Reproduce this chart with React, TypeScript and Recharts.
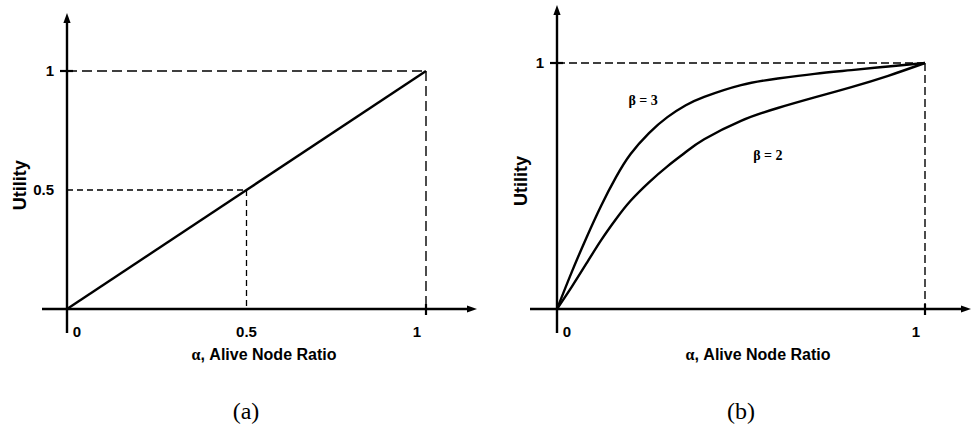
import React from "react";
import {
  LineChart,
  Line,
  XAxis,
  YAxis,
  ReferenceLine,
  ReferenceDot,
} from "recharts";

// (a) linear utility
const linearAlpha = [0, 0.5, 1];
const linearUtility = [0, 0.5, 1];

// (b) utility for beta = 3 and beta = 2
const betaAlpha = [0, 0.04, 0.08, 0.12, 0.16, 0.2, 0.25, 0.3, 0.35, 0.4, 0.5, 0.6, 0.7, 0.8, 0.9, 1];
const beta3Utility = [0, 0.15, 0.29, 0.42, 0.535, 0.63, 0.715, 0.78, 0.828, 0.862, 0.91, 0.937, 0.956, 0.971, 0.986, 1];
const beta2Utility = [0, 0.09, 0.185, 0.28, 0.365, 0.44, 0.515, 0.58, 0.638, 0.69, 0.765, 0.817, 0.86, 0.902, 0.948, 1];

const xTicksA = [0, 0.5, 1];
const yTicksA = [0.5, 1];
const xTicksB = [0, 1];
const yTicksB = [1];

const xTitle = "Alive Node Ratio";
const yTitle = "Utility";

const SANS = '"Liberation Sans", Arial, Helvetica, sans-serif';
const SERIF = '"Liberation Serif", "DejaVu Serif", serif';

const toPoints = (xs: number[], ys: number[]) =>
  xs.map((a, i) => ({ a, u: ys[i] }));

// pixel frame of one panel: origin, unit lengths, axis extents
type Frame = {
  w: number;
  h: number;
  ox: number;
  oy: number;
  ux: number;
  uy: number;
  xl: number;
  xr: number;
  yt: number;
  yb: number;
  xTitleX: number;
  yTitleX: number;
};

const frameA: Frame = { w: 486, h: 432, ox: 67, oy: 309, ux: 359, uy: 238, xl: 42, xr: 477, yt: 13, yb: 333, xTitleX: 264, yTitleX: 20 };
const frameB: Frame = { w: 486, h: 432, ox: 71, oy: 309, ux: 368, uy: 246, xl: 44, xr: 485, yt: 5, yb: 333, xTitleX: 272, yTitleX: 35 };

const xDomain = (f: Frame) => [-(f.ox - f.xl) / f.ux, (f.xr - f.ox) / f.ux];
const yDomain = (f: Frame) => [-(f.yb - f.oy) / f.uy, (f.oy - f.yt) / f.uy];
// the axes take 1px each, so the plot box still spans xl..xr / yt..yb
const margins = (f: Frame) => ({ top: f.yt, bottom: f.h - f.yb - 1, left: f.xl - 1, right: f.w - f.xr });

const Arrow = (p: any) => {
  const { x1, y1, x2, y2 } = p;
  const t = Math.atan2(y2 - y1, x2 - x1);
  const c = Math.cos(t);
  const s = Math.sin(t);
  const bx = x2 - 10 * c;
  const by = y2 - 10 * s;
  return (
    <g>
      <line x1={x1} y1={y1} x2={bx} y2={by} stroke="#000" strokeWidth={2.4} />
      <polygon
        points={`${x2},${y2} ${bx - 3.6 * s},${by + 3.6 * c} ${bx + 3.6 * s},${by - 3.6 * c}`}
        fill="#000"
      />
    </g>
  );
};

const makeXTick = (f: Frame) => (p: any) => {
  const v = p.payload.value;
  const dx = v === 0 ? 10 : v === 1 ? -9 : 0;
  return (
    <text x={p.x + dx} y={f.yb - 1} dy="0.36em" textAnchor="middle" fontFamily={SANS} fontWeight="bold" fontSize={15} fill="#000">
      {v}
    </text>
  );
};

const makeYTick = (f: Frame) => (p: any) => (
  <text x={f.ox - 13} y={p.y} dy="0.36em" textAnchor="end" fontFamily={SANS} fontWeight="bold" fontSize={15} fill="#000">
    {p.payload.value}
  </text>
);

const makeXTitle = (f: Frame) => () => (
  <text x={f.xTitleX} y={354} dy="0.36em" textAnchor="middle" fontFamily={SANS} fontWeight="bold" fontSize={16} fill="#000">
    <tspan fontFamily={SERIF}>α</tspan>, {xTitle}
  </text>
);

const makeYTitle = (f: Frame) => () => {
  const cy = f.oy - 0.52 * f.uy;
  return (
    <text x={f.yTitleX} y={cy} dy="0.36em" textAnchor="middle" transform={`rotate(-90 ${f.yTitleX} ${cy})`} fontFamily={SANS} fontWeight="bold" fontSize={18} fill="#000">
      {yTitle}
    </text>
  );
};

const BetaLabel = (p: any) => {
  const vb = p.viewBox || {};
  const cx = (vb.x ?? 0) + (vb.width ?? 0) / 2;
  const cy = (vb.y ?? 0) + (vb.height ?? 0) / 2;
  return (
    <text x={cx} y={cy} dy="0.36em" textAnchor="middle" style={{ fontFamily: SERIF, fontWeight: "bold", fontSize: 14 }} fill="#000">
      {p.text}
    </text>
  );
};

const guides = (f: Frame, big: string) => {
  const [x0, x1] = xDomain(f);
  const [y0, y1] = yDomain(f);
  return [
    <ReferenceLine key="g1" segment={[{ x: 0, y: 1 }, { x: 1, y: 1 }]} stroke="#000" strokeWidth={1.4} strokeDasharray={big} ifOverflow="visible" />,
    <ReferenceLine key="g2" segment={[{ x: 1, y: 1 }, { x: 1, y: 0 }]} stroke="#000" strokeWidth={1.4} strokeDasharray={big} ifOverflow="visible" />,
    <ReferenceLine key="tx" segment={[{ x: 1, y: -6 / f.uy }, { x: 1, y: 5 / f.uy }]} stroke="#000" strokeWidth={2.2} ifOverflow="visible" />,
    <ReferenceLine key="ty" segment={[{ x: -7 / f.ux, y: 1 }, { x: 6 / f.ux, y: 1 }]} stroke="#000" strokeWidth={2.2} ifOverflow="visible" />,
    <ReferenceLine key="ax" segment={[{ x: x0, y: 0 }, { x: x1, y: 0 }]} shape={Arrow} ifOverflow="visible" />,
    <ReferenceLine key="ay" segment={[{ x: 0, y: y0 }, { x: 0, y: y1 }]} shape={Arrow} ifOverflow="visible" />,
  ];
};

const Caption = ({ cx, text }: { cx: number; text: string }) => (
  <div
    style={{
      position: "absolute",
      left: cx - 50,
      top: 398,
      width: 100,
      textAlign: "center",
      fontFamily: SERIF,
      fontSize: 24,
      lineHeight: "26px",
      color: "#000",
    }}
  >
    {text}
  </div>
);

export default function App() {
  const dataA = toPoints(linearAlpha, linearUtility);
  const data3 = toPoints(betaAlpha, beta3Utility);
  const data2 = toPoints(betaAlpha, beta2Utility);

  return (
    <div style={{ position: "absolute", left: 0, top: 0, width: 972, height: 432, background: "#fff" }}>
      <div style={{ position: "absolute", left: 0, top: 0 }}>
        <LineChart width={frameA.w} height={frameA.h} margin={margins(frameA)}>
          <XAxis type="number" dataKey="a" domain={xDomain(frameA)} ticks={xTicksA} interval={0} allowDataOverflow height={1} axisLine={false} tickLine={false} tickSize={0} tickMargin={0} tick={makeXTick(frameA)} label={{ content: makeXTitle(frameA) }} />
          <YAxis type="number" dataKey="u" domain={yDomain(frameA)} ticks={yTicksA} interval={0} allowDataOverflow width={1} axisLine={false} tickLine={false} tickSize={0} tickMargin={0} tick={makeYTick(frameA)} label={{ content: makeYTitle(frameA) }} />
          {guides(frameA, "10 5")}
          <ReferenceLine segment={[{ x: 0, y: 0.5 }, { x: 0.5, y: 0.5 }]} stroke="#000" strokeWidth={1.3} strokeDasharray="6 4" ifOverflow="visible" />
          <ReferenceLine segment={[{ x: 0.5, y: 0.5 }, { x: 0.5, y: 0 }]} stroke="#000" strokeWidth={1.3} strokeDasharray="6 4" ifOverflow="visible" />
          <Line data={dataA} dataKey="u" type="linear" stroke="#000" strokeWidth={2.4} dot={false} isAnimationActive={false} />
        </LineChart>
      </div>
      <div style={{ position: "absolute", left: 486, top: 0 }}>
        <LineChart width={frameB.w} height={frameB.h} margin={margins(frameB)}>
          <XAxis type="number" dataKey="a" domain={xDomain(frameB)} ticks={xTicksB} interval={0} allowDataOverflow height={1} axisLine={false} tickLine={false} tickSize={0} tickMargin={0} tick={makeXTick(frameB)} label={{ content: makeXTitle(frameB) }} />
          <YAxis type="number" dataKey="u" domain={yDomain(frameB)} ticks={yTicksB} interval={0} allowDataOverflow width={1} axisLine={false} tickLine={false} tickSize={0} tickMargin={0} tick={makeYTick(frameB)} label={{ content: makeYTitle(frameB) }} />
          {guides(frameB, "8 4")}
          <Line data={data3} dataKey="u" type="natural" stroke="#000" strokeWidth={2.4} dot={false} isAnimationActive={false} />
          <Line data={data2} dataKey="u" type="natural" stroke="#000" strokeWidth={2.4} dot={false} isAnimationActive={false} />
          <ReferenceDot x={0.234} y={0.85} r={0} fill="none" stroke="none" ifOverflow="visible" label={<BetaLabel text="β = 3" />} />
          <ReferenceDot x={0.573} y={0.626} r={0} fill="none" stroke="none" ifOverflow="visible" label={<BetaLabel text="β = 2" />} />
        </LineChart>
      </div>
      <Caption cx={246} text="(a)" />
      <Caption cx={741} text="(b)" />
    </div>
  );
}
